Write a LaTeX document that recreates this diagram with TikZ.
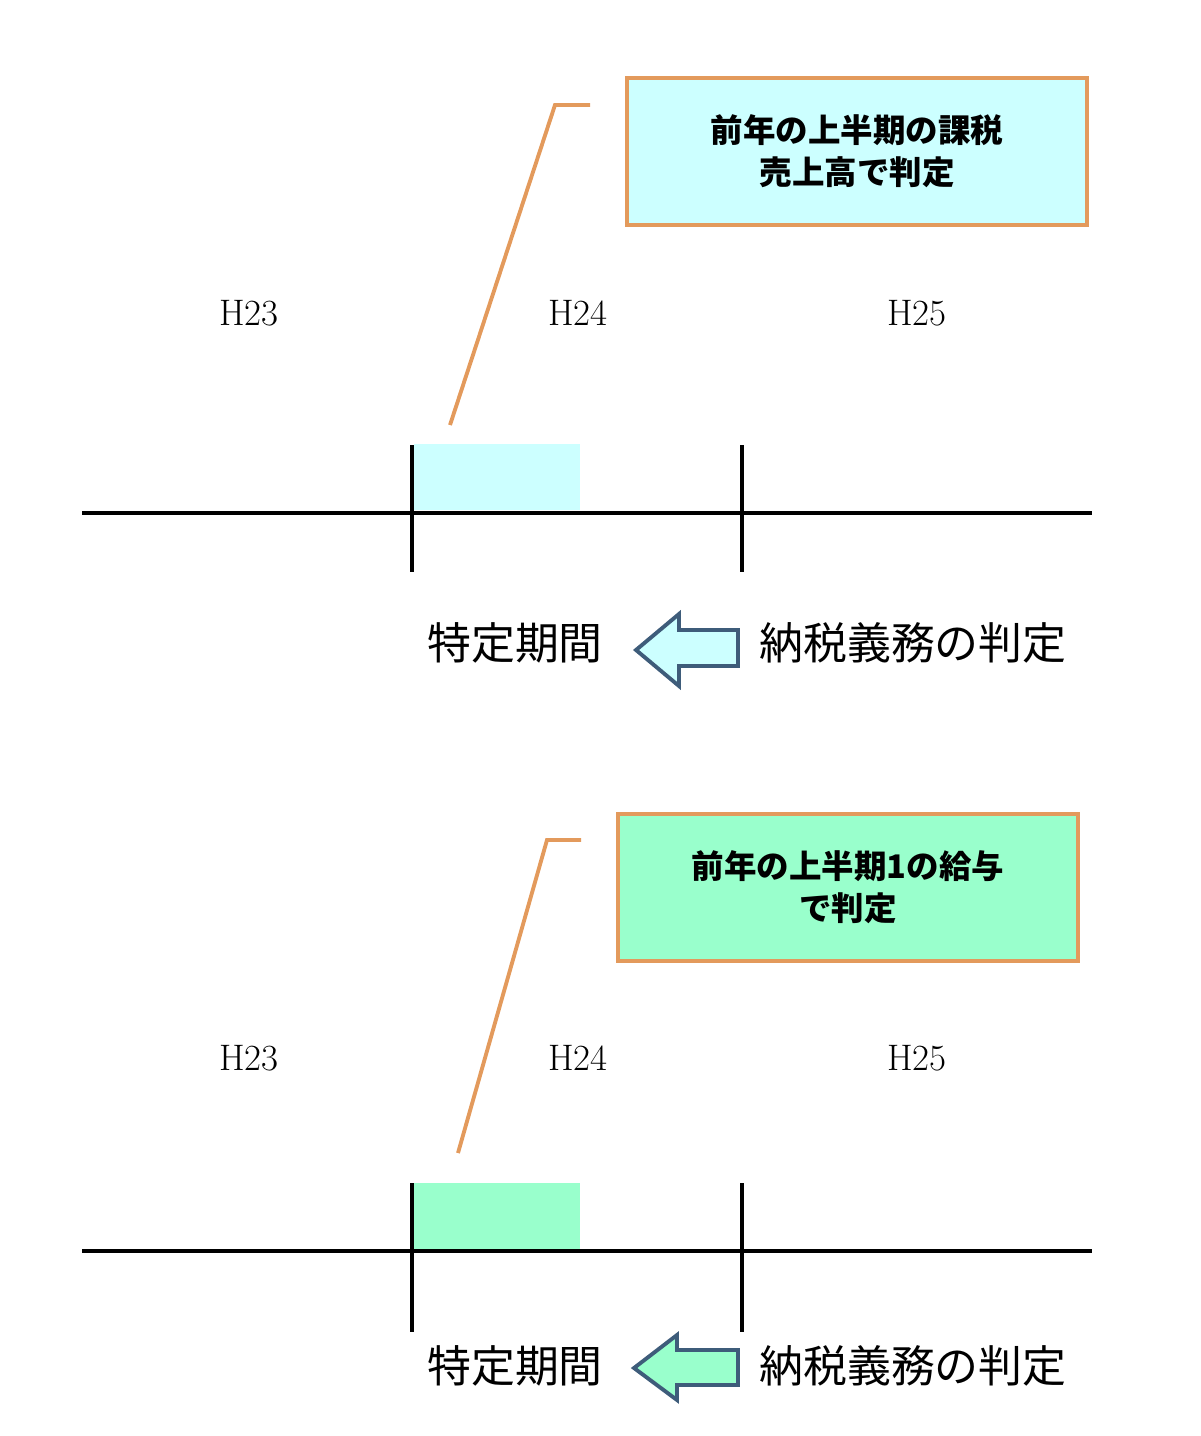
\documentclass[tikz,border=0pt]{standalone}
\usepackage{fontspec}
\newfontfamily\cjk{Noto Sans CJK JP}
\usepackage{tikz}
\usetikzlibrary{positioning}

\definecolor{calloutorange}{HTML}{E39A5C}
\definecolor{paleCyan}{HTML}{CCFFFF}
\definecolor{paleMint}{HTML}{99FFCC}
\definecolor{arrowSlate}{HTML}{3E5C7A}

\begin{document}
\begin{tikzpicture}[x=0.02cm, y=-0.02cm,
        axis/.style    = {draw=black, line width=2pt},
        tick/.style    = {draw=black, line width=2pt},
        year/.style    = {font=\fontsize{21}{25}\selectfont, inner sep=0pt},
        note/.style    = {draw=calloutorange, line width=2.2pt, rectangle, align=center,
                          minimum width=9.2cm, minimum height=2.94cm,
                          font=\cjk\bfseries\fontsize{18.5}{24}\selectfont},
        pointer/.style = {draw=calloutorange, line width=2.2pt},
        label/.style   = {font=\cjk\fontsize{25}{30}\selectfont, inner sep=0pt},
        blockarrow/.style = {draw=arrowSlate, line width=2.2pt, line join=miter}]

        \useasboundingbox (0,0) rectangle (1200,1436);

        % upper panel, taxable sales
        \fill[paleCyan] (414,444) rectangle (580,510);
        \draw[axis] (82,513) -- (1092,513);
        \draw[tick] (412,445) -- (412,572);
        \draw[tick] (742,445) -- (742,572);

        \node[year] (y23a) at (249,313) {H23};
        \node[year] (y24a) at (578,313) {H24};
        \node[year] (y25a) at (917,313) {H25};

        \node[note, fill=paleCyan] (notea) at (857,151.5) {前年の上半期の課税\\売上高で判定};
        \coordinate (tipa) at (450,425);
        \coordinate (benda) at (555,105);
        \coordinate (enda) at (590,105);
        \draw[pointer] (tipa) -- (benda) -- (enda);

        \node[label] (perioda) at (515,643) {特定期間};
        \node[label] (dutya) at (913,643) {納税義務の判定};
        \draw[blockarrow, fill=paleCyan] (738,630) -- (679,630) -- (679,614) -- (636,650)
            -- (679,686) -- (679,666) -- (738,666) -- cycle;

        % lower panel, salaries
        \fill[paleMint] (414,1183) rectangle (580,1249);
        \draw[axis] (82,1251) -- (1092,1251);
        \draw[tick] (412,1183) -- (412,1332);
        \draw[tick] (742,1183) -- (742,1332);

        \node[year] (y23b) at (249,1058) {H23};
        \node[year] (y24b) at (578,1058) {H24};
        \node[year] (y25b) at (917,1058) {H25};

        \node[note, fill=paleMint] (noteb) at (848,887.5) {前年の上半期1の給与\\で判定};
        \coordinate (tipb) at (458,1153);
        \coordinate (bendb) at (547,840);
        \coordinate (endb) at (581,840);
        \draw[pointer] (tipb) -- (bendb) -- (endb);

        \node[label] (periodb) at (515,1366) {特定期間};
        \node[label] (dutyb) at (913,1366) {納税義務の判定};
        \draw[blockarrow, fill=paleMint] (738,1350) -- (677,1350) -- (677,1335) -- (634,1368)
            -- (677,1400) -- (677,1385) -- (738,1385) -- cycle;

    \end{tikzpicture}
\end{document}
